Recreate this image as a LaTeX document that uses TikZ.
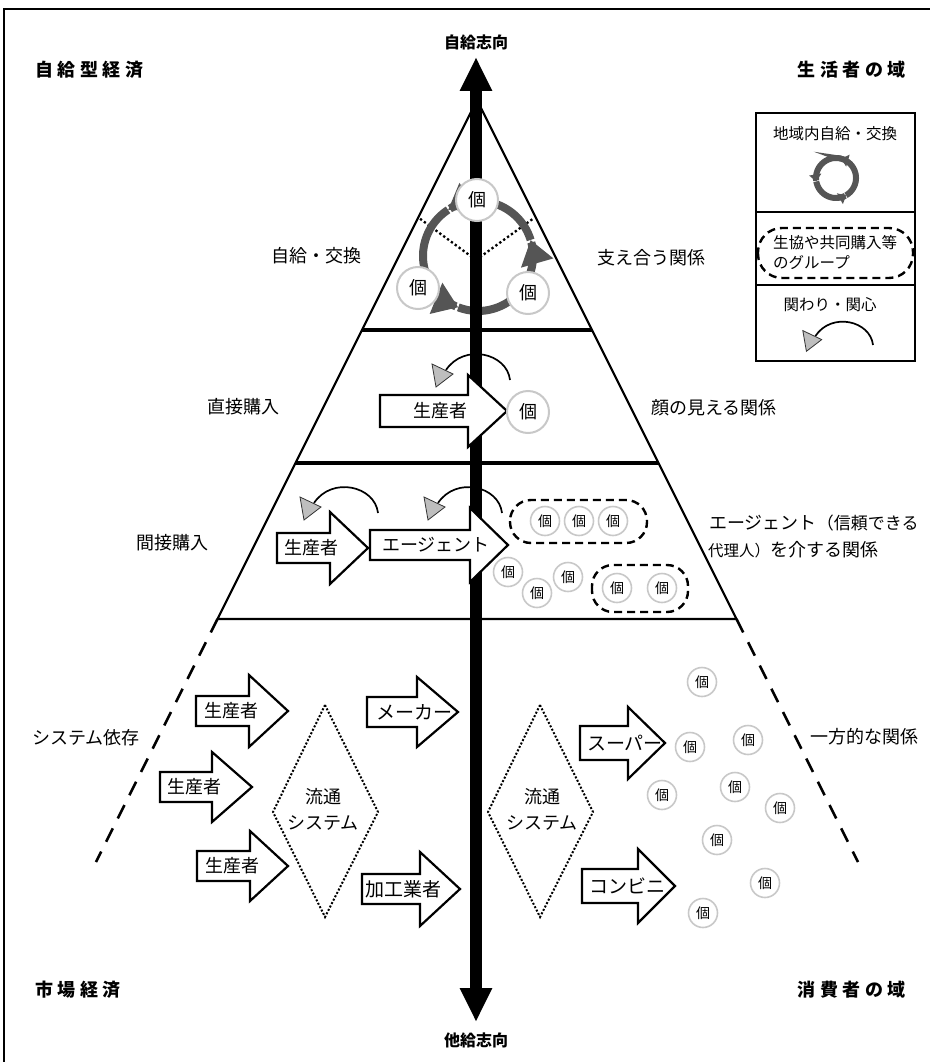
\documentclass[tikz,border=0pt]{standalone}
\usepackage{fontspec}
\setmainfont{Noto Sans CJK JP}
\usetikzlibrary{arrows.meta,calc}
\definecolor{ringgray}{RGB}{85,85,85}
\definecolor{kogray}{RGB}{200,200,200}
\definecolor{tipgray}{RGB}{190,190,190}
\newcommand\fs[1]{\fontsize{#1}{#1}\selectfont}
\tikzset{
  lbl/.style={inner sep=0pt, font=\fs{18}},
  ttl/.style={inner sep=0pt, font=\fs{18}\bfseries},
  ko/.style={circle, draw=kogray, line width=2pt, fill=white, minimum size=42pt, inner sep=0pt, font=\fs{18}},
  kos/.style={circle, draw=kogray, line width=1.6pt, fill=white, minimum size=29pt, inner sep=0pt, font=\fs{14}},
  blk/.style={draw=black, fill=white, line width=2.2pt, line join=miter},
  grp/.style={draw=black, dash pattern=on 8pt off 5pt, line width=2.4pt, rounded corners=21pt},
  pyr/.style={draw=black, line width=2.2pt},
  tier/.style={draw=black, line width=4.5pt},
  ext/.style={draw=black, line width=2.5pt, dash pattern=on 15pt off 11pt},
  dots/.style={draw=black, line width=2.3pt, dash pattern=on 2.3pt off 2.5pt},
  diam/.style={draw=black, line width=2pt, dash pattern=on 2pt off 1.8pt},
  ringline/.style={draw=ringgray, line width=8pt, -{Triangle[length=24pt,width=32pt]}},
  ringsmall/.style={draw=ringgray, line width=6pt, -{Triangle[length=7pt,width=12pt]}},
}
\newcommand\blockarrow[9]{%
  \draw[blk] (#2,{#5-#6}) -- (#3,{#5-#6}) -- (#3,{#5-#7}) -- (#4,#5) -- (#3,{#5+#7}) -- (#3,{#5+#6}) -- (#2,{#5+#6}) -- cycle;
  \node[lbl] (#1) at (#8,#5) {#9};}
\newcommand\concern[2][1]{%
  \begin{scope}[shift={#2}, scale=#1]
    \draw[line width=1.7pt] (0,0) .. controls (-3,-27) and (-46,-37) .. (-64,-10);
    \draw[fill=tipgray, draw=black!80, line width=0.8pt, line join=miter] (-78,-16) -- (-57,-6) -- (-74,7) -- cycle;
  \end{scope}}
\newcommand\ringarc[6]{%
  \draw[#6] plot[variable=\t, domain=0:1, samples=40, smooth] ({#1+#3*cos(#4+#5*\t)},{#2+#3*sin(#4+#5*\t)});}
\begin{document}
\begin{tikzpicture}[x=1pt,y=-1pt]
\useasboundingbox (0,0) rectangle (929,1062);
\fill[white] (0,0) rectangle (929,1062);
% frame
\draw[line width=2pt] (4,1075) -- (4,9) -- (940,9);

% titles
\node[ttl, anchor=west] (t1) at (35,70) {自\hspace{4.5pt}給\hspace{4.5pt}型\hspace{4.5pt}経\hspace{4.5pt}済};
\node[ttl, anchor=east] (t2) at (906,70) {生\hspace{4.5pt}活\hspace{4.5pt}者\hspace{4.5pt}の\hspace{4.5pt}域};
\node[ttl, anchor=west] (t3) at (35,990) {市\hspace{4.5pt}場\hspace{4.5pt}経\hspace{4.5pt}済};
\node[ttl, anchor=east] (t4) at (906,990) {消\hspace{4.5pt}費\hspace{4.5pt}者\hspace{4.5pt}の\hspace{4.5pt}域};
\node[inner sep=0pt, font=\fs{16}\bfseries] (up) at (476,42) {自給志向};
\node[inner sep=0pt, font=\fs{16}\bfseries] (down) at (476,1040) {他給志向};

% pyramid
\coordinate (apex) at (477,100);
\coordinate (bl) at (217.5,619);
\coordinate (br) at (736.5,619);
\draw[pyr] (bl) -- (apex) -- (br) -- cycle;
\coordinate (l1) at (362,330); \coordinate (r1) at (592,330);
\coordinate (l2) at (295.5,463); \coordinate (r2) at (658.5,463);
\draw[tier] (l1) -- (r1);
\draw[tier] (l2) -- (r2);
\coordinate (el) at (96,862); \coordinate (er) at (858,862);
\draw[ext] (bl) -- (el);
\draw[ext] (br) -- (er);

% tier 1 dotted sectors and ring
\coordinate (ctr) at (476,260);
\coordinate (dl) at (419,218);
\coordinate (dr) at (534,218);
\coordinate (db) at (476,330);
\draw[dots] (ctr) -- (dl);
\draw[dots] (ctr) -- (dr);
\draw[dots] (ctr) -- (db);
\ringarc{478}{256}{55}{111}{-128}{ringline}
\ringarc{478}{256}{55}{-17}{-106}{ringline}
\ringarc{478}{256}{55}{-123}{-126}{ringline}

% central axis
\coordinate (vtop) at (476,57);
\coordinate (vbot) at (476,1022);
\draw[line width=12pt, {Triangle[length=34pt,width=30pt]}-{Triangle[length=34pt,width=30pt]}] (vtop) -- (vbot);

% tier 1 nodes and labels
\node[ko] (k1) at (477,200) {個};
\node[ko] (k2) at (418,288) {個};
\node[ko] (k3) at (528,293) {個};
\node[lbl] (a1) at (316,256) {自給・交換};
\node[lbl] (b1) at (651,258) {支え合う関係};

% tier 2
\concern{(510,380)}
\blockarrow{p2}{380}{468}{507}{411}{16}{36}{440}{生産者}
\node[ko] (k4) at (528,412) {個};
\node[lbl] (a2) at (243,407) {直接購入};
\node[lbl] (b2) at (714,408) {顔の見える関係};

% tier 3
\concern{(378,513)}
\concern{(502,513)}
\blockarrow{p3}{277}{330}{368}{548}{15}{36}{311}{生産者}
\blockarrow{ag}{370}{470}{508}{545}{15}{37}{436}{エージェント}
\draw[grp] (510,500) rectangle (647,543);
\node[kos] (g1) at (545,521) {個};
\node[kos] (g2) at (579,521) {個};
\node[kos] (g3) at (613,521) {個};
\node[kos] (g4) at (508,572) {個};
\node[kos] (g5) at (537,593) {個};
\node[kos] (g6) at (568,577) {個};
\draw[grp] (592,565) rectangle (688,612);
\node[kos] (g7) at (617,588) {個};
\node[kos] (g8) at (662,588) {個};
\node[lbl] (a3) at (172,543) {間接購入};
\node[lbl, anchor=west] (b3a) at (709,523) {エージェント{\fs{17}（信頼できる}};
\node[lbl, anchor=west] (b3b) at (708,550) {{\fs{15.5}代理人）}を介する関係};

% lower region
\node[lbl] (a4) at (86,738) {システム依存};
\node[lbl] (b4) at (864,737) {一方的な関係};
\blockarrow{m1}{196}{249}{288}{711}{15}{36}{231}{生産者}
\blockarrow{m2}{160}{212}{252}{787}{15}{35}{194}{生産者}
\blockarrow{m3}{197}{250}{288}{866}{15}{35}{232}{生産者}
\blockarrow{mk}{367}{417}{458}{712}{15}{35}{414}{\fs{19}メーカー}
\blockarrow{kk}{362}{420}{460}{889}{15}{37}{403}{\fs{19}加工業者}
\blockarrow{sp}{580}{628}{665}{743}{17}{36}{625}{\fs{19}スーパー}
\blockarrow{cv}{582}{638}{675}{886}{17}{37}{627}{\fs{19}コンビニ}
\draw[diam] (325,705) -- (378,812) -- (325,917) -- (273,812) -- cycle;
\node[lbl] (d1a) at (323,797) {流通};
\node[lbl] (d1b) at (323,823) {システム};
\draw[diam] (540,705) -- (593,812) -- (540,917) -- (488,812) -- cycle;
\node[lbl] (d2a) at (542,797) {流通};
\node[lbl] (d2b) at (542,823) {システム};
\node[kos] (c1) at (702,682) {個};
\node[kos] (c2) at (690,747) {個};
\node[kos] (c3) at (748,740) {個};
\node[kos] (c4) at (662,795) {個};
\node[kos] (c5) at (735,787) {個};
\node[kos] (c6) at (780,808) {個};
\node[kos] (c7) at (717,840) {個};
\node[kos] (c8) at (765,883) {個};
\node[kos] (c9) at (703,913) {個};

% legend
\draw[line width=2.2pt] (756,113) rectangle (915,361);
\draw[line width=2.2pt] (756,212) -- (915,212);
\draw[line width=2.2pt] (756,285) -- (915,285);
\node[lbl, font=\fs{15.5}] (lg1) at (835,134) {地域内自給・交換};
\ringarc{836}{178}{20}{60}{-135}{ringsmall}
\ringarc{836}{178}{20}{-75}{-115}{ringsmall}
\ringarc{836}{178}{20}{170}{-110}{ringsmall}
\draw[grp, rounded corners=24pt] (758,228) rectangle (913,278);
\node[lbl, font=\fs{15.5}] (lg2) at (835,243) {生協や共同購入等};
\node[lbl, font=\fs{15.5}, anchor=west] (lg3) at (773,263) {のグループ};
\node[lbl, font=\fs{15.5}] (lg4) at (830,305) {関わり・関心};
\concern[0.9]{(873,345)}
\end{tikzpicture}
\end{document}
